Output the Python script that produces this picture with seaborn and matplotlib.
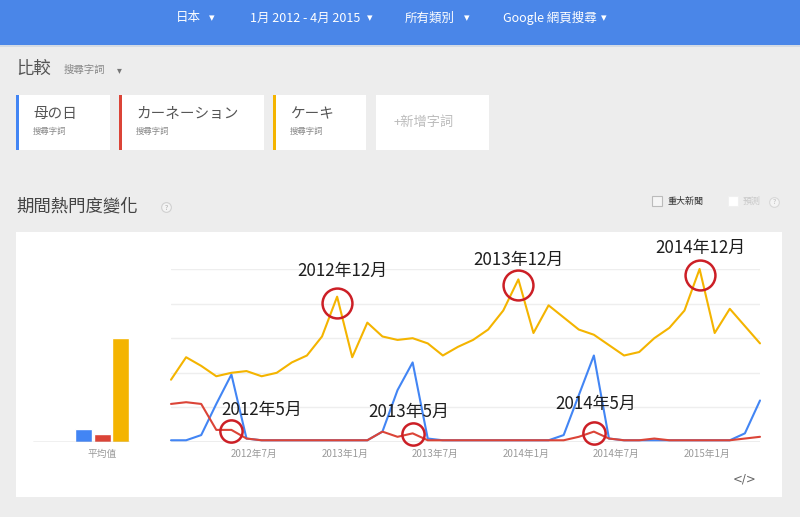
import numpy as np
import pandas as pd
import matplotlib
matplotlib.use("Agg")
import matplotlib.pyplot as plt
import matplotlib.transforms as mtransforms
from matplotlib.patches import Rectangle
import seaborn as sns

# ---------------- data ----------------
terms = ["母の日", "カーネーション", "ケーキ"]
term_colors = ["#4285f4", "#db4437", "#f4b400"]
months = pd.date_range("2012-01-01", "2015-04-01", freq="MS")

mothers_day = [1, 1, 4, 22, 39, 2, 1, 1, 1, 1, 1, 1,
               1, 1, 6, 30, 46, 2, 1, 1, 1, 1, 1, 1,
               1, 1, 4, 27, 50, 2, 1, 1, 1, 1, 1, 1,
               1, 1, 5, 24]
carnation = [22, 23, 22, 7, 7, 2, 1, 1, 1, 1, 1, 1,
             1, 1, 6, 3, 5, 1, 1, 1, 1, 1, 1, 1,
             1, 1, 1, 3, 6, 2, 1, 1, 2, 1, 1, 1,
             1, 1, 2, 3]
cake = [36, 49, 44, 38, 40, 41, 38, 40, 46, 50, 61, 84,
        49, 69, 61, 59, 60, 57, 50, 55, 59, 65, 76, 94,
        63, 79, 72, 65, 62, 56, 50, 52, 60, 66, 76, 100,
        63, 77, 67, 57]
averages = [7.5, 4.5, 60]

tick_months = ["2012-07-01", "2013-01-01", "2013-07-01", "2014-01-01", "2014-07-01", "2015-01-01"]
tick_labels = ["2012年7月", "2013年1月", "2013年7月", "2014年1月", "2014年7月", "2015年1月"]

ann_months = ["2012-12-01", "2013-12-01", "2014-12-01", "2012-05-01", "2013-05-01", "2014-05-01"]
ann_terms = ["ケーキ", "ケーキ", "ケーキ", "カーネーション", "カーネーション", "カーネーション"]
ann_labels = ["2012年12月", "2013年12月", "2014年12月", "2012年5月", "2013年5月", "2014年5月"]

# ---------------- frame ----------------
series = {"母の日": mothers_day, "カーネーション": carnation, "ケーキ": cake}
df = pd.concat([pd.DataFrame({"idx": np.arange(len(months)), "month": months,
                              "term": t, "value": v}) for t, v in series.items()],
               ignore_index=True)

sns.set_theme(style="white")
plt.rcParams["font.family"] = ["Noto Sans CJK TC", "DejaVu Sans"]

W, H = 800, 517
fig = plt.figure(figsize=(8, 5.17), dpi=100, facecolor="#ededed")

def fbox(x0, y0, x1, y1):
    return [x0 / W, 1 - y1 / H, (x1 - x0) / W, (y1 - y0) / H]

# background / UI layer in pixel coordinates
bg = fig.add_axes([0, 0, 1, 1], zorder=0)
bg.set_xlim(0, W)
bg.set_ylim(H, 0)
bg.axis("off")
bg.add_patch(Rectangle((0, 0), W, 45, color="#4a86e8", lw=0))
bg.add_patch(Rectangle((0, 45), W, 2, color="#d5dbe3", lw=0))

white = "#ffffff"
for x, lab in [(176, "日本"), (250, "1月 2012 - 4月 2015"), (405, "所有類別"), (503, "Google 網頁搜尋")]:
    bg.text(x, 18, lab, color=white, fontsize=9, va="center", ha="left")
for x in [212, 370, 467, 604]:
    bg.text(x, 18, "▾", color=white, fontsize=8, va="center", ha="center", family=["DejaVu Sans"])

bg.text(16, 69, "比較", color="#555555", fontsize=12.5, va="center")
bg.text(64, 70, "搜尋字詞", color="#888888", fontsize=7.5, va="center")
bg.text(119, 70, "▾", color="#777777", fontsize=7, va="center", ha="center", family=["DejaVu Sans"])

cards = [(16, 110), (119, 264), (273, 366), (376, 489)]
for i, (x0, x1) in enumerate(cards):
    bg.add_patch(Rectangle((x0, 95), x1 - x0, 55, color=white, lw=0))
    if i < 3:
        bg.add_patch(Rectangle((x0, 95), 3, 55, color=term_colors[i], lw=0))
        bg.text(x0 + 17, 114, terms[i], color="#555555", fontsize=10.5, va="center",
                family=["Noto Sans CJK JP", "DejaVu Sans"])
        bg.text(x0 + 17, 131, "搜尋字詞", color="#888888", fontsize=6, va="center")
bg.text(394, 122, "+新增字詞", color="#bbbbbb", fontsize=9.5, va="center")

bg.text(16, 206, "期間熱門度變化", color="#444444", fontsize=12.5, va="center")
bg.plot([166], [207], marker="o", ms=7, mfc="#f4f4f4", mec="#d0d0d0", mew=0.8)
bg.text(166, 207.5, "?", color="#aaaaaa", fontsize=5, ha="center", va="center")

bg.add_patch(Rectangle((652, 196), 10, 10, fc="#f5f5f5", ec="#bbbbbb", lw=0.8))
bg.text(668, 201, "重大新聞", color="#333333", fontsize=6.5, va="center")
bg.add_patch(Rectangle((728, 196), 10, 10, fc=white, ec="#f0f0f0", lw=0.8))
bg.text(743, 201, "預測", color="#c8c8c8", fontsize=6.5, va="center")
bg.plot([774], [202], marker="o", ms=7, mfc="#f4f4f4", mec="#d8d8d8", mew=0.8)
bg.text(774, 202.5, "?", color="#bbbbbb", fontsize=5, ha="center", va="center")

bg.add_patch(Rectangle((16, 232), 766, 265, color=white, lw=0))
bg.text(745, 479, "</>", color="#666666", fontsize=8.5, ha="center", va="center",
        family=["DejaVu Sans"])

# ---------------- line chart ----------------
ax = fig.add_axes(fbox(171, 269, 760, 442), zorder=2)
ax.patch.set_alpha(0)
sns.lineplot(data=df, x="idx", y="value", hue="term", hue_order=terms,
             palette=term_colors, linewidth=1.5, legend=False, ax=ax, clip_on=False)
ax.set_xlim(0, len(months) - 1)
ax.set_ylim(0, 100)
ax.set_yticks([0, 20, 40, 60, 80, 100])
ax.set_yticklabels([])
ax.grid(axis="y", color="#eeeeee", lw=1)
ax.grid(axis="x", visible=False)
ax.axhline(0, color="#b5b5b5", lw=1, zorder=1)
for s in ax.spines.values():
    s.set_visible(False)
tick_pos = [months.get_loc(pd.Timestamp(m)) - 0.5 for m in tick_months]
ax.set_xticks(tick_pos)
ax.set_xticklabels(tick_labels)
ax.tick_params(axis="x", length=0, pad=5, labelsize=7, colors="#9a9a9a")
ax.tick_params(axis="y", length=0)
ax.set_xlabel("")
ax.set_ylabel("")

# annotations
text_offsets = [(5, 26), (0, 19), (1, 21), (30, 20), (-4, 21), (2, 28)]
for m, t, lab, (dx, dy) in zip(ann_months, ann_terms, ann_labels, text_offsets):
    i = months.get_loc(pd.Timestamp(m))
    v = series[t][i]
    big = t == "ケーキ"
    tr = mtransforms.offset_copy(ax.transData, fig=fig, x=0, y=-6 if big else -1, units="dots")
    ax.plot([i], [v], marker="o", ms=21.5 if big else 16, mfc="none", mec="#cc1f26",
            mew=1.8, transform=tr, clip_on=False, zorder=5)
    ax.annotate(lab, xy=(i, v), xytext=(dx, dy), textcoords="offset pixels",
                ha="center", va="center", fontsize=12.2, color="#1e1e1e",
                family=["Noto Sans CJK JP", "DejaVu Sans"], zorder=6,
                annotation_clip=False)

# ---------------- average bars ----------------
bx = fig.add_axes(fbox(33, 269, 130, 442), zorder=2)
bx.patch.set_alpha(0)
sns.barplot(x=terms, y=averages, hue=terms, palette=term_colors, width=0.92,
            legend=False, ax=bx, saturation=1)
bx.set_xlim(-2.73, 2.51)
bx.set_ylim(0, 100)
bx.axhline(0, color="#b5b5b5", lw=1)
for s in bx.spines.values():
    s.set_visible(False)
bx.set_yticks([])
bx.set_xticks([1])
bx.set_xticklabels(["平均值"])
bx.tick_params(axis="x", length=0, pad=5, labelsize=7, colors="#9a9a9a")
bx.set_xlabel("")
bx.set_ylabel("")

fig.savefig("out.png", dpi=100, facecolor=fig.get_facecolor())
